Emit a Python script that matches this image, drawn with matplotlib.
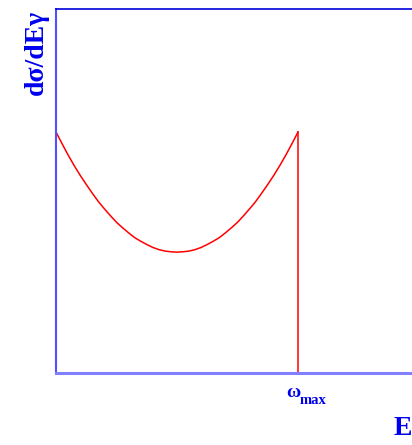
import numpy as np
import matplotlib
matplotlib.use('Agg')
import matplotlib.pyplot as plt

# photon energy in units of omega_max, and cross-section
energy = [0.0, 0.025, 0.05, 0.075, 0.1, 0.125, 0.15, 0.175, 0.2, 0.225, 0.25,
          0.275, 0.3, 0.325, 0.35, 0.375, 0.4, 0.425, 0.45, 0.475, 0.5,
          0.525, 0.55, 0.575, 0.6, 0.625, 0.65, 0.675, 0.7, 0.725, 0.75,
          0.775, 0.8, 0.825, 0.85, 0.875, 0.9, 0.925, 0.95, 0.975, 1.0]
dsigma = [0.662, 0.630, 0.599, 0.570, 0.543, 0.518, 0.494, 0.471, 0.451, 0.432, 0.414,
          0.399, 0.385, 0.372, 0.362, 0.353, 0.345, 0.339, 0.335, 0.333, 0.332,
          0.333, 0.335, 0.339, 0.345, 0.353, 0.362, 0.372, 0.385, 0.399, 0.414,
          0.432, 0.451, 0.471, 0.494, 0.518, 0.543, 0.570, 0.599, 0.630, 0.662]
cutoff = 1.0

serif = 'Liberation Serif'
blue = '#0000ee'

fig = plt.figure(figsize=(4.12, 4.45), dpi=100)
ax = fig.add_axes([56 / 412, 1 - 373 / 445, 1 - 56 / 412, 364 / 445])

ax.plot(energy, dsigma, color='red', lw=1.1)
ax.plot([cutoff, cutoff], [0, dsigma[-1]], color='red', lw=1.1)

ax.set_xlim(0, 356 / 242)
ax.set_ylim(0, 1)
ax.set_xticks([])
ax.set_yticks([])

ax.spines['right'].set_visible(False)
ax.spines['top'].set_color('#0000dd')
ax.spines['top'].set_linewidth(1.2)
ax.spines['left'].set_color('#5050ff')
ax.spines['left'].set_linewidth(1.5)
ax.spines['bottom'].set_color('#8080ff')
ax.spines['bottom'].set_linewidth(2.2)

fig.text(36 / 412, 1 - 52 / 445, 'dσ/dEγ', rotation=90, ha='center', va='center',
         family=serif, weight='bold', fontsize=20, color=blue)
fig.text(412 / 412, 1 - 435 / 445, 'E', ha='right', va='baseline',
         family=serif, weight='bold', fontsize=20, color=blue)
fig.text(293 / 412, 1 - 397 / 445, 'ω', ha='center', va='baseline',
         family=serif, weight='bold', fontsize=14, color=blue)
fig.text(300 / 412, 1 - 404 / 445, 'max', ha='left', va='baseline',
         family=serif, weight='bold', fontsize=10.5, color=blue)

fig.savefig('out.png', dpi=100)
